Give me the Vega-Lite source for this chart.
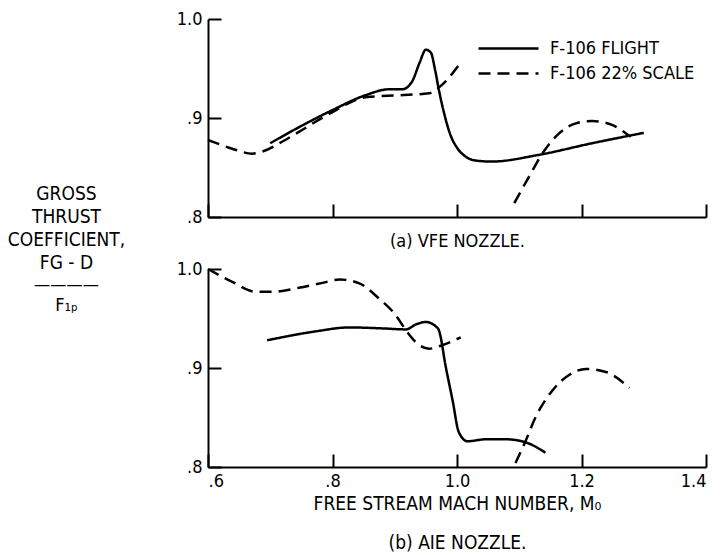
{
  "$schema": "https://vega.github.io/schema/vega-lite/v6.json",
  "padding": {"left": 7, "top": 10, "right": 5, "bottom": 5},
  "bounds": "flush",
  "spacing": 52,
  "background": "white",
  "config": {
    "view": {"stroke": null},
    "font": "DejaVu Sans Condensed",
    "axis": {
      "grid": false,
      "domainColor": "black",
      "domainWidth": 2,
      "tickColor": "black",
      "tickWidth": 2,
      "tickSize": -13,
      "labelColor": "black",
      "labelFont": "DejaVu Sans Condensed",
      "labelFontSize": 18,
      "titleColor": "black",
      "titleFont": "DejaVu Sans Condensed",
      "titleFontWeight": "normal"
    }
  },
  "datasets": {
    "vfe": [
      {"series": "F-106 FLIGHT", "part": "f1", "mach": 0.70, "coef": 0.8745},
      {"series": "F-106 FLIGHT", "part": "f1", "mach": 0.75, "coef": 0.892},
      {"series": "F-106 FLIGHT", "part": "f1", "mach": 0.80, "coef": 0.908},
      {"series": "F-106 FLIGHT", "part": "f1", "mach": 0.853, "coef": 0.923},
      {"series": "F-106 FLIGHT", "part": "f1", "mach": 0.891, "coef": 0.929},
      {"series": "F-106 FLIGHT", "part": "f1", "mach": 0.912, "coef": 0.929},
      {"series": "F-106 FLIGHT", "part": "f1", "mach": 0.928, "coef": 0.937},
      {"series": "F-106 FLIGHT", "part": "f1", "mach": 0.940, "coef": 0.956},
      {"series": "F-106 FLIGHT", "part": "f1", "mach": 0.950, "coef": 0.969},
      {"series": "F-106 FLIGHT", "part": "f1", "mach": 0.958, "coef": 0.966},
      {"series": "F-106 FLIGHT", "part": "f1", "mach": 0.965, "coef": 0.948},
      {"series": "F-106 FLIGHT", "part": "f1", "mach": 0.971, "coef": 0.928},
      {"series": "F-106 FLIGHT", "part": "f1", "mach": 0.980, "coef": 0.903},
      {"series": "F-106 FLIGHT", "part": "f1", "mach": 0.990, "coef": 0.882},
      {"series": "F-106 FLIGHT", "part": "f1", "mach": 1.000, "coef": 0.870},
      {"series": "F-106 FLIGHT", "part": "f1", "mach": 1.014, "coef": 0.861},
      {"series": "F-106 FLIGHT", "part": "f1", "mach": 1.030, "coef": 0.857},
      {"series": "F-106 FLIGHT", "part": "f1", "mach": 1.056, "coef": 0.856},
      {"series": "F-106 FLIGHT", "part": "f1", "mach": 1.130, "coef": 0.8626},
      {"series": "F-106 FLIGHT", "part": "f1", "mach": 1.217, "coef": 0.8745},
      {"series": "F-106 FLIGHT", "part": "f1", "mach": 1.300, "coef": 0.885},
      {"series": "F-106 22% SCALE", "part": "d1", "mach": 0.600, "coef": 0.878},
      {"series": "F-106 22% SCALE", "part": "d1", "mach": 0.639, "coef": 0.869},
      {"series": "F-106 22% SCALE", "part": "d1", "mach": 0.671, "coef": 0.864},
      {"series": "F-106 22% SCALE", "part": "d1", "mach": 0.687, "coef": 0.866},
      {"series": "F-106 22% SCALE", "part": "d1", "mach": 0.719, "coef": 0.876},
      {"series": "F-106 22% SCALE", "part": "d1", "mach": 0.746, "coef": 0.886},
      {"series": "F-106 22% SCALE", "part": "d1", "mach": 0.800, "coef": 0.906},
      {"series": "F-106 22% SCALE", "part": "d1", "mach": 0.853, "coef": 0.921},
      {"series": "F-106 22% SCALE", "part": "d1", "mach": 0.907, "coef": 0.923},
      {"series": "F-106 22% SCALE", "part": "d1", "mach": 0.955, "coef": 0.925},
      {"series": "F-106 22% SCALE", "part": "d1", "mach": 0.975, "coef": 0.933},
      {"series": "F-106 22% SCALE", "part": "d1", "mach": 1.003, "coef": 0.9535},
      {"series": "F-106 22% SCALE", "part": "d2", "mach": 1.092, "coef": 0.814},
      {"series": "F-106 22% SCALE", "part": "d2", "mach": 1.116, "coef": 0.841},
      {"series": "F-106 22% SCALE", "part": "d2", "mach": 1.137, "coef": 0.864},
      {"series": "F-106 22% SCALE", "part": "d2", "mach": 1.164, "coef": 0.8845},
      {"series": "F-106 22% SCALE", "part": "d2", "mach": 1.191, "coef": 0.8946},
      {"series": "F-106 22% SCALE", "part": "d2", "mach": 1.217, "coef": 0.897},
      {"series": "F-106 22% SCALE", "part": "d2", "mach": 1.249, "coef": 0.893},
      {"series": "F-106 22% SCALE", "part": "d2", "mach": 1.279, "coef": 0.881}
    ],
    "aie": [
      {"series": "F-106 FLIGHT", "part": "f1", "mach": 0.695, "coef": 0.928},
      {"series": "F-106 FLIGHT", "part": "f1", "mach": 0.773, "coef": 0.937},
      {"series": "F-106 FLIGHT", "part": "f1", "mach": 0.827, "coef": 0.941},
      {"series": "F-106 FLIGHT", "part": "f1", "mach": 0.880, "coef": 0.940},
      {"series": "F-106 FLIGHT", "part": "f1", "mach": 0.918, "coef": 0.939},
      {"series": "F-106 FLIGHT", "part": "f1", "mach": 0.934, "coef": 0.944},
      {"series": "F-106 FLIGHT", "part": "f1", "mach": 0.950, "coef": 0.9465},
      {"series": "F-106 FLIGHT", "part": "f1", "mach": 0.966, "coef": 0.942},
      {"series": "F-106 FLIGHT", "part": "f1", "mach": 0.971, "coef": 0.938},
      {"series": "F-106 FLIGHT", "part": "f1", "mach": 0.982, "coef": 0.901},
      {"series": "F-106 FLIGHT", "part": "f1", "mach": 0.993, "coef": 0.867},
      {"series": "F-106 FLIGHT", "part": "f1", "mach": 1.003, "coef": 0.835},
      {"series": "F-106 FLIGHT", "part": "f1", "mach": 1.017, "coef": 0.826},
      {"series": "F-106 FLIGHT", "part": "f1", "mach": 1.046, "coef": 0.828},
      {"series": "F-106 FLIGHT", "part": "f1", "mach": 1.078, "coef": 0.828},
      {"series": "F-106 FLIGHT", "part": "f1", "mach": 1.110, "coef": 0.825},
      {"series": "F-106 FLIGHT", "part": "f1", "mach": 1.142, "coef": 0.8145},
      {"series": "F-106 22% SCALE", "part": "d1", "mach": 0.600, "coef": 1.000},
      {"series": "F-106 22% SCALE", "part": "d1", "mach": 0.639, "coef": 0.987},
      {"series": "F-106 22% SCALE", "part": "d1", "mach": 0.677, "coef": 0.977},
      {"series": "F-106 22% SCALE", "part": "d1", "mach": 0.704, "coef": 0.977},
      {"series": "F-106 22% SCALE", "part": "d1", "mach": 0.746, "coef": 0.981},
      {"series": "F-106 22% SCALE", "part": "d1", "mach": 0.784, "coef": 0.986},
      {"series": "F-106 22% SCALE", "part": "d1", "mach": 0.811, "coef": 0.9895},
      {"series": "F-106 22% SCALE", "part": "d1", "mach": 0.843, "coef": 0.9855},
      {"series": "F-106 22% SCALE", "part": "d1", "mach": 0.875, "coef": 0.970},
      {"series": "F-106 22% SCALE", "part": "d1", "mach": 0.902, "coef": 0.953},
      {"series": "F-106 22% SCALE", "part": "d1", "mach": 0.918, "coef": 0.938},
      {"series": "F-106 22% SCALE", "part": "d1", "mach": 0.934, "coef": 0.926},
      {"series": "F-106 22% SCALE", "part": "d1", "mach": 0.955, "coef": 0.9195},
      {"series": "F-106 22% SCALE", "part": "d1", "mach": 0.976, "coef": 0.923},
      {"series": "F-106 22% SCALE", "part": "d1", "mach": 1.006, "coef": 0.931},
      {"series": "F-106 22% SCALE", "part": "d2", "mach": 1.094, "coef": 0.804},
      {"series": "F-106 22% SCALE", "part": "d2", "mach": 1.110, "coef": 0.826},
      {"series": "F-106 22% SCALE", "part": "d2", "mach": 1.126, "coef": 0.850},
      {"series": "F-106 22% SCALE", "part": "d2", "mach": 1.153, "coef": 0.877},
      {"series": "F-106 22% SCALE", "part": "d2", "mach": 1.180, "coef": 0.893},
      {"series": "F-106 22% SCALE", "part": "d2", "mach": 1.207, "coef": 0.899},
      {"series": "F-106 22% SCALE", "part": "d2", "mach": 1.239, "coef": 0.896},
      {"series": "F-106 22% SCALE", "part": "d2", "mach": 1.277, "coef": 0.880}
    ]
  },
  "resolve": {"scale": {"strokeDash": "independent"}, "legend": {"strokeDash": "independent"}},
  "vconcat": [
    {
      "width": 498,
      "height": 198,
      "data": {"name": "vfe"},
      "mark": {"type": "line", "interpolate": "monotone", "strokeWidth": 2.5, "color": "black"},
      "encoding": {
        "x": {
          "field": "mach", "type": "quantitative",
          "scale": {"domain": [0.6, 1.4], "nice": false, "zero": false},
          "axis": {"values": [0.6, 0.8, 1.0, 1.2, 1.4], "labels": false, "title": "(a) VFE NOZZLE.", "titleFontSize": 18, "titlePadding": 14}
        },
        "y": {
          "field": "coef", "type": "quantitative",
          "scale": {"domain": [0.8, 1.0], "nice": false, "zero": false},
          "axis": {
            "values": [0.8, 0.9, 1.0],
            "labelExpr": "datum.value >= 0.99 ? '1.0' : replace(format(datum.value, '.1f'), '0.', '.')",
            "labelPadding": 19,
            "title": ["GROSS", "THRUST", "COEFFICIENT,", "FG - D"],
            "titleFontSize": 19,
            "titleAngle": 0,
            "titleAlign": "center",
            "titleBaseline": "top",
            "titleLineHeight": 23,
            "titleX": -142,
            "titleY": 165
          }
        },
        "strokeDash": {
          "field": "series", "type": "nominal",
          "scale": {"domain": ["F-106 FLIGHT", "F-106 22% SCALE"], "range": [[1, 0], [12, 7]]},
          "legend": {
            "orient": "none", "legendX": 289, "legendY": 18, "title": null,
            "symbolType": "M-3,0H3", "symbolSize": 400, "symbolStrokeWidth": 2.5, "symbolStrokeColor": "black", "symbolFillColor": "transparent",
            "labelFont": "DejaVu Sans Condensed", "labelFontSize": 18, "labelColor": "black", "labelOffset": 30, "labelLimit": 300,
            "rowPadding": 4
          }
        },
        "detail": {"field": "part"}
      }
    },
    {
      "width": 498,
      "height": 198,
      "data": {"name": "aie"},
      "mark": {"type": "line", "interpolate": "monotone", "strokeWidth": 2.5, "color": "black"},
      "encoding": {
        "x": {
          "field": "mach", "type": "quantitative",
          "scale": {"domain": [0.6, 1.4], "nice": false, "zero": false},
          "axis": {
            "values": [0.6, 0.8, 1.0, 1.2, 1.4],
            "labelExpr": "datum.value < 0.99 ? replace(format(datum.value, '.1f'), '0.', '.') : format(datum.value, '.1f')",
            "labelPadding": 18,
            "title": ["FREE STREAM MACH NUMBER, M₀", "(b) AIE NOZZLE."],
            "titleFontSize": 19,
            "titleLineHeight": 39,
            "titlePadding": 4
          }
        },
        "y": {
          "field": "coef", "type": "quantitative",
          "scale": {"domain": [0.8, 1.0], "nice": false, "zero": false},
          "axis": {
            "values": [0.8, 0.9, 1.0],
            "labelExpr": "datum.value >= 0.99 ? '1.0' : replace(format(datum.value, '.1f'), '0.', '.')",
            "labelPadding": 19,
            "title": ["————", "F₁ₚ"],
            "titleFontSize": 18,
            "titleAngle": 0,
            "titleAlign": "center",
            "titleBaseline": "top",
            "titleLineHeight": 21,
            "titleX": -142,
            "titleY": 6
          }
        },
        "strokeDash": {
          "field": "series", "type": "nominal",
          "scale": {"domain": ["F-106 FLIGHT", "F-106 22% SCALE"], "range": [[1, 0], [12, 7]]},
          "legend": null
        },
        "detail": {"field": "part"}
      }
    }
  ]
}
